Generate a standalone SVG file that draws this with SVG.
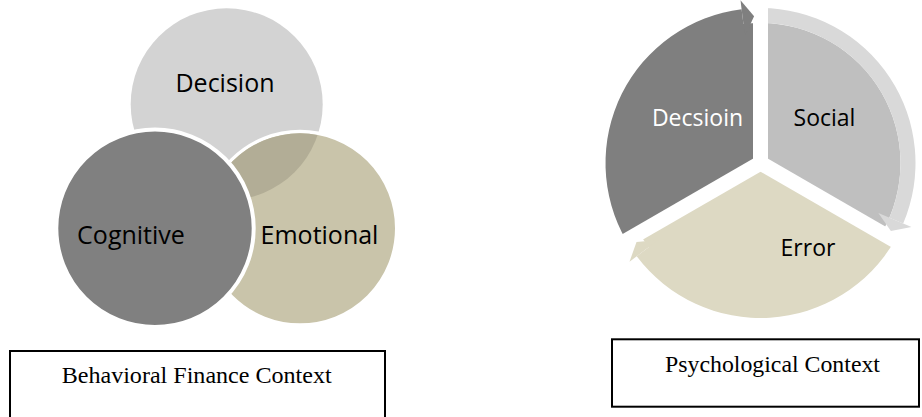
<svg xmlns="http://www.w3.org/2000/svg" width="922" height="417" viewBox="0 0 922 417">
<style>
.lbl{font-family:"Open Sans","DejaVu Sans",sans-serif;text-anchor:middle;fill:#000}
.lbl2{font-family:"Open Sans","DejaVu Sans",sans-serif;text-anchor:middle;font-size:23px}
.cap{font-family:"Liberation Serif","Times New Roman",serif;font-size:24px;text-anchor:middle;fill:#000}
.box{fill:#fff;stroke:#000;stroke-width:2}
.gap{stroke:#fff;stroke-width:15;fill:none}
</style>
<defs>
<clipPath id="clipDecision"><circle cx="226.7" cy="104.3" r="96"/></clipPath>
</defs>
<rect width="922" height="417" fill="#fff"/>

<!-- Left Venn -->
<g id="node-decision">
<circle cx="226.7" cy="104.3" r="96" fill="#d3d3d3"/>
</g>
<g id="node-emotional">
<circle cx="300" cy="228.3" r="96.75" fill="#c9c4aa" stroke="#fff" stroke-width="3.5"/>
<circle cx="300" cy="228.3" r="95" fill="#b2ad96" clip-path="url(#clipDecision)"/>
</g>
<g id="node-cognitive">
<circle cx="155" cy="228.3" r="98.7" fill="#808080" stroke="#fff" stroke-width="4"/>
</g>
<text class="lbl" x="225" y="91.5" font-size="25">Decision</text>
<text class="lbl" x="131" y="243.5" font-size="25">Cognitive</text>
<text class="lbl" x="319.5" y="243.5" font-size="25">Emotional</text>

<!-- Right cycle -->
<g id="node-decsioin">
<path d="M760.5 163 L626.27 240.5 A155 155 0 0 1 741.61 9.15 L743.44 24.04 A140 140 0 0 1 760.5 23 Z" fill="#7f7f7f"/>
</g>
<g id="node-social">
<path d="M760.5 163 L760.5 23 A140 140 0 0 1 881.74 233 Z" fill="#bfbfbf"/>
<path d="M760.5 8 A155 155 0 0 1 903.18 223.56 L889.37 217.7 A140 140 0 0 0 760.5 23 Z" fill="#d9d9d9"/>
</g>
<g id="node-error">
<path d="M760.5 163 L894.73 240.5 A155 155 0 0 1 636.71 256.28 L648.69 247.25 A140 140 0 0 1 639.26 233 Z" fill="#ddd9c3"/>
</g>
<g id="connectors">
<line class="gap" x1="760.5" y1="163" x2="760.5" y2="-20"/>
<line class="gap" x1="760.5" y1="163" x2="915.4" y2="252.4"/>
<line class="gap" x1="760.5" y1="163" x2="605.6" y2="252.4"/>
<circle cx="760.5" cy="163" r="7.5" fill="#fff"/>
<polygon points="740.51,0.22 754.09,16.14 744.9,35.95" fill="#7f7f7f"/>
<polygon points="878.32,213.01 890.89,230.88 911.46,227.08" fill="#d9d9d9"/>
<polygon points="658.27,240.03 636.52,241.98 629.52,261.7" fill="#ddd9c3"/>
</g>
<text class="lbl2" x="697.5" y="126" fill="#fff">Decsioin</text>
<text class="lbl2" x="824.5" y="126" fill="#000">Social</text>
<text class="lbl2" x="808" y="256" fill="#000">Error</text>

<!-- Caption boxes -->
<g id="box-behavioral">
<rect class="box" x="10" y="351" width="375" height="80"/>
<text class="cap" x="196.7" y="383.3" textLength="270" lengthAdjust="spacingAndGlyphs">Behavioral Finance Context</text>
</g>
<g id="box-psychological">
<rect class="box" x="612" y="339.3" width="307" height="67.4"/>
<text class="cap" x="772.5" y="371.7" textLength="215" lengthAdjust="spacingAndGlyphs">Psychological Context</text>
</g>
</svg>
